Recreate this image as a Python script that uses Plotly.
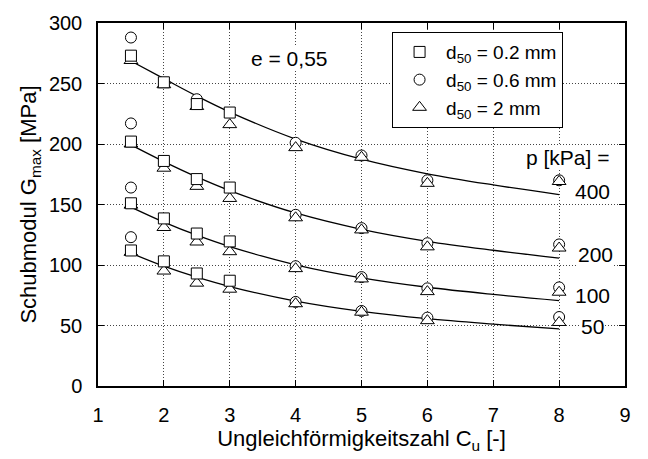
import plotly.graph_objects as go

# Void ratio of all specimens
void_ratio = "0,55"

# Mean effective pressures p [kPa]
pressures = [50, 100, 200, 400]

# Fitted curves G_max(C_u) per pressure
curve_cu = [1.5, 2.0, 2.5, 3.0, 4.0, 5.0, 6.0, 7.0, 8.0]
curve_p50 = [109.8, 99.0, 89.9, 82.2, 70.2, 61.7, 55.6, 51.1, 47.2]
curve_p100 = [147.9, 135.5, 124.6, 115.2, 100.2, 89.4, 81.6, 75.7, 70.6]
curve_p200 = [199.3, 185.5, 172.8, 161.5, 143.0, 129.5, 119.6, 112.2, 105.7]
curve_p400 = [268.6, 254.0, 239.6, 226.4, 204.1, 187.5, 175.4, 166.2, 158.2]

# Measurements, d50 = 0.2 mm
sq_cu = [1.5, 2.0, 2.5, 3.0]
sq_p50 = [112, 103, 93, 87]
sq_p100 = [151, 138.5, 126, 119.5]
sq_p200 = [202, 186, 171, 164]
sq_p400 = [273, 251, 233, 226]

# Measurements, d50 = 0.6 mm
ci_cu = [1.5, 4.0, 5.0, 6.0, 8.0]
ci_cu_p400 = [1.5, 2.5, 4.0, 5.0, 6.0, 8.0]
ci_p50 = [123, 69.5, 62, 56.5, 57]
ci_p100 = [164, 99, 90, 80.7, 81.5]
ci_p200 = [217, 141.5, 130.5, 118, 117]
ci_p400 = [288, 237, 201, 190.5, 170, 170]

# Measurements, d50 = 2 mm
tr_cu = [1.5, 2.0, 2.5, 3.0, 4.0, 5.0, 6.0, 8.0]
tr_p50 = [110.5, 95, 85, 80, 68, 61, 54, 52.5]
tr_p100 = [149.5, 131, 119, 111, 97, 88.5, 78, 77.5]
tr_p200 = [200, 180, 165, 155, 139, 129, 115, 114]
tr_p400 = [269, 249, 231, 216, 197, 189, 167.5, 169]

# Pressure label positions at the right end of the curves
label_cu = [8.5, 8.5, 8.55, 8.5]
label_g = [49, 75, 109, 160.6]

FONT = "Liberation Sans, Arial, Helvetica, sans-serif"

fig = go.Figure()

for g in (curve_p50, curve_p100, curve_p200, curve_p400):
    fig.add_trace(go.Scatter(
        x=curve_cu, y=g, mode="lines",
        line=dict(color="black", width=1.3, shape="spline"),
        showlegend=False, hoverinfo="skip",
    ))


def flatten(cus, series):
    xs, ys = [], []
    for c, s in zip(cus, series):
        xs += list(c)
        ys += list(s)
    return xs, ys


marker_style = dict(color="white", line=dict(color="black", width=1))

x, y = flatten([ci_cu, ci_cu, ci_cu, ci_cu_p400], [ci_p50, ci_p100, ci_p200, ci_p400])
fig.add_trace(go.Scatter(
    x=x, y=y, mode="markers", name="d<sub>50</sub> = 0.6 mm", legendrank=2,
    marker=dict(symbol="circle", size=11, **marker_style),
))

x, y = flatten([tr_cu] * 4, [tr_p50, tr_p100, tr_p200, tr_p400])
fig.add_trace(go.Scatter(
    x=x, y=y, mode="markers", name="d<sub>50</sub> = 2 mm", legendrank=3,
    marker=dict(symbol="triangle-up", size=12, **marker_style),
))

x, y = flatten([sq_cu] * 4, [sq_p50, sq_p100, sq_p200, sq_p400])
fig.add_trace(go.Scatter(
    x=x, y=y, mode="markers", name="d<sub>50</sub> = 0.2 mm", legendrank=1,
    marker=dict(symbol="square", size=11, **marker_style),
))

annotations = [
    dict(x=3.9, y=270.6, text=f"e = {void_ratio}"),
    dict(x=8.12, y=189, text="p [kPa] ="),
]
for cx, gy, p in zip(label_cu, label_g, pressures):
    annotations.append(dict(x=cx, y=gy, text=str(p)))
for a in annotations:
    a.update(xref="x", yref="y", showarrow=False, bgcolor="white",
             borderpad=0, font=dict(family=FONT, size=21, color="black"))

axis_common = dict(
    showline=True, linecolor="black", linewidth=1.5, mirror="allticks",
    ticks="inside", ticklen=6, tickcolor="black", tickwidth=1,
    showgrid=True, gridcolor="#444444", griddash="1px,2px", gridwidth=1,
    zeroline=False, tickfont=dict(family=FONT, size=20, color="black"),
)

fig.update_layout(
    width=648, height=459,
    margin=dict(l=98, r=23, t=19, b=72),
    paper_bgcolor="white", plot_bgcolor="white",
    font=dict(family=FONT, color="black"),
    annotations=annotations,
    xaxis=dict(
        range=[1, 9], dtick=1, ticklabelstandoff=10,
        title=dict(text="Ungleichförmigkeitszahl C<sub>u</sub> [-]",
                   font=dict(family=FONT, size=22), standoff=6),
        **axis_common,
    ),
    yaxis=dict(
        range=[0, 300], dtick=50, ticklabelstandoff=10,
        title=dict(text="Schubmodul G<sub>max</sub> [MPa]",
                   font=dict(family=FONT, size=22), standoff=6),
        **axis_common,
    ),
    legend=dict(
        x=0.558, y=0.975, xanchor="left", yanchor="top",
        bgcolor="white", bordercolor="black", borderwidth=1,
        font=dict(family=FONT, size=19, color="black"),
        tracegroupgap=0, itemwidth=43,
    ),
    showlegend=True,
)

fig.write_html("out.html")
